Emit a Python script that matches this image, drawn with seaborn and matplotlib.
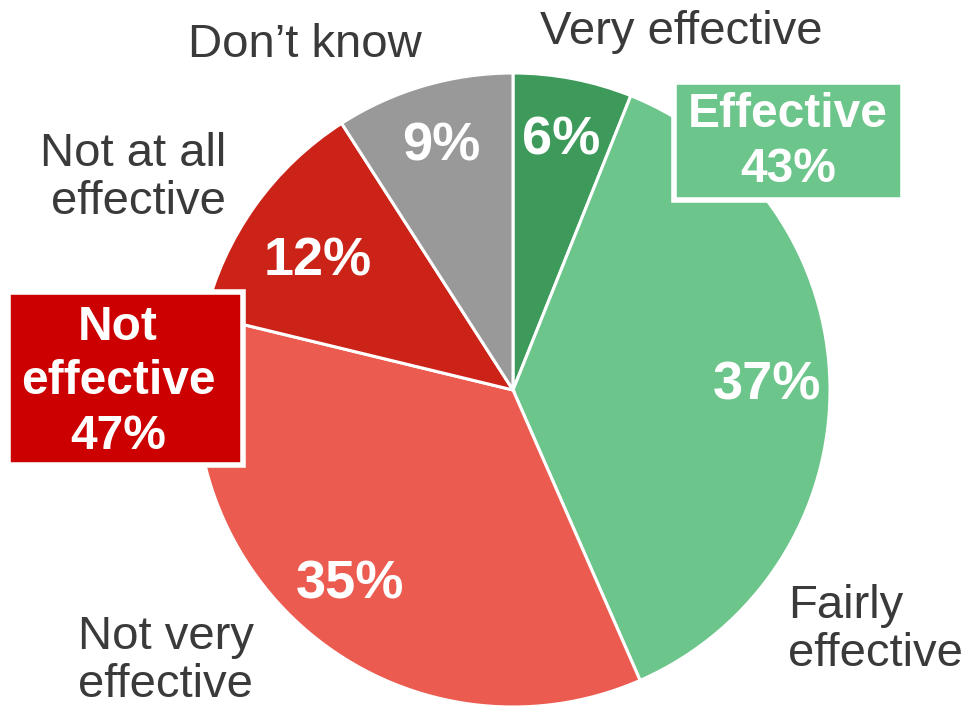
import matplotlib
matplotlib.use("Agg")
import matplotlib.pyplot as plt
import seaborn as sns
from matplotlib.patches import Rectangle

sns.set_theme(style="white")
plt.rcParams['font.family'] = ['Liberation Sans', 'DejaVu Sans']

categories = ["Very effective", "Fairly effective", "Not very effective",
              "Not at all effective", "Don\u2019t know"]
values = [6, 37, 35, 12, 9]
outer_labels = ["Very effective", "Fairly\neffective", "Not very\neffective",
                "Not at all\neffective", "Don\u2019t know"]
group_labels = ["Effective", "Not\neffective"]
group_values = [43, 47]

colors = sns.color_palette(["#3d9a5b", "#6cc58a", "#eb5b4f", "#cc2318", "#999999"])
text_gray = "#3a3a3a"

fig = plt.figure(figsize=(9.70, 7.12), dpi=100)
ax = fig.add_axes([0, 0, 1, 1])

total = sum(values)
cx, cy, r = 513, 390, 317
wedges, _, autotexts = ax.pie(
    values, colors=colors, center=(cx, cy), radius=r,
    startangle=-90, counterclock=True,
    autopct=lambda p: f"{p * total / 100:.0f}%", pctdistance=0.80,
    wedgeprops=dict(edgecolor="white", linewidth=2.2),
    textprops=dict(color="white", fontsize=39, fontweight="bold"),
)
ax.set_xlim(0, 970)
ax.set_ylim(712, 0)
ax.set_aspect("equal")
ax.axis("off")

# nudge the 12% label slightly inward as in the reference
autotexts[3].set_position((318, 262))

lab_kw = dict(color=text_gray, fontsize=34, linespacing=1.12)
ax.text(681, 32, outer_labels[0], ha="center", va="center", **lab_kw)
ax.text(788, 630, outer_labels[1], ha="left", va="center", **lab_kw)
ax.text(78, 661, outer_labels[2], ha="left", va="center", **lab_kw)
ax.text(226, 178, outer_labels[3], ha="right", va="center", **lab_kw)
ax.text(305, 45, outer_labels[4], ha="center", va="center", **lab_kw)

# group boxes
ax.add_patch(Rectangle((674, 82), 229, 118, facecolor="#6cc58a",
                       edgecolor="white", linewidth=4, zorder=5))
ax.text(788, 142, f"{group_labels[0]}\n{group_values[0]}%", ha="center", va="center",
        color="white", fontsize=34.5, fontweight="bold", linespacing=1.27, zorder=6)

ax.add_patch(Rectangle((8, 292), 235, 173, facecolor="#cc0000",
                       edgecolor="white", linewidth=4, zorder=5))
ax.text(118, 382, f"{group_labels[1]}\n{group_values[1]}%", ha="center", va="center",
        color="white", fontsize=34.5, fontweight="bold", linespacing=1.27, zorder=6)

fig.savefig("out.png", dpi=100)
